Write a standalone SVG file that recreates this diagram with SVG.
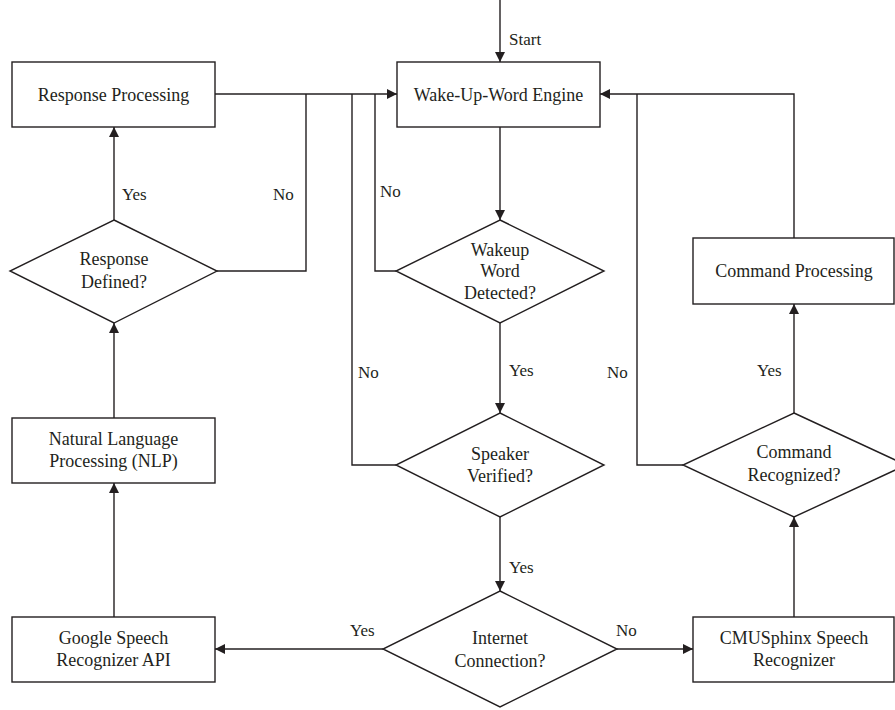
<svg xmlns="http://www.w3.org/2000/svg" width="895" height="710" viewBox="0 0 895 710">
<defs>
<style>
.box{fill:#fff;stroke:#231f20;stroke-width:1.4}
.ln{fill:none;stroke:#231f20;stroke-width:1.4}
.t{font-family:"Liberation Serif","Times New Roman",serif;font-size:18px;fill:#231f20;text-anchor:middle}
.lb{font-family:"Liberation Serif","Times New Roman",serif;font-size:17px;fill:#231f20}
</style>
<marker id="ah" viewBox="0 0 10 10" refX="10" refY="5" markerWidth="10" markerHeight="10" markerUnits="userSpaceOnUse" orient="auto">
<path d="M0,0 L10,5 L0,10 z" fill="#231f20"/>
</marker>
</defs>
<rect width="895" height="710" fill="#fff"/>
<g id="connectors">
<path class="ln" d="M500,0 V62" marker-end="url(#ah)"/>
<path class="ln" d="M215,94 H397" marker-end="url(#ah)"/>
<path class="ln" d="M217,271 H306 V94"/>
<path class="ln" d="M114,220 V127" marker-end="url(#ah)"/>
<path class="ln" d="M396,271 H375 V94"/>
<path class="ln" d="M396,465 H352 V94"/>
<path class="ln" d="M500,127 V220" marker-end="url(#ah)"/>
<path class="ln" d="M500,323 V413" marker-end="url(#ah)"/>
<path class="ln" d="M500,517 V591" marker-end="url(#ah)"/>
<path class="ln" d="M383,649 H215" marker-end="url(#ah)"/>
<path class="ln" d="M617,649 H693" marker-end="url(#ah)"/>
<path class="ln" d="M114,617 V483" marker-end="url(#ah)"/>
<path class="ln" d="M114,418 V323" marker-end="url(#ah)"/>
<path class="ln" d="M794,617 V517" marker-end="url(#ah)"/>
<path class="ln" d="M794,413 V304" marker-end="url(#ah)"/>
<path class="ln" d="M683,465 H637 V94"/>
<path class="ln" d="M794,238 V94 H600" marker-end="url(#ah)"/>
<text class="lb" x="509" y="45">Start</text>
<text class="lb" x="122" y="200">Yes</text>
<text class="lb" x="273" y="200">No</text>
<text class="lb" x="380" y="197">No</text>
<text class="lb" x="358" y="378">No</text>
<text class="lb" x="509" y="376">Yes</text>
<text class="lb" x="607" y="378">No</text>
<text class="lb" x="757" y="376">Yes</text>
<text class="lb" x="509" y="573">Yes</text>
<text class="lb" x="350" y="636">Yes</text>
<text class="lb" x="616" y="636">No</text>
</g>
<g id="response-processing">
<rect class="box" x="12" y="62" width="203" height="65"/>
<text class="t" x="113.5" y="101">Response Processing</text>
</g>
<g id="wake-up-word-engine">
<rect class="box" x="397" y="62" width="203" height="65"/>
<text class="t" x="498.5" y="101">Wake-Up-Word Engine</text>
</g>
<g id="response-defined">
<polygon class="box" points="114,220 217,271 114,323 10,271"/>
<text class="t" x="114" y="265">Response</text>
<text class="t" x="114" y="288">Defined?</text>
</g>
<g id="wakeup-word-detected">
<polygon class="box" points="500,220 604,271 500,323 396,271"/>
<text class="t" x="500" y="256">Wakeup</text>
<text class="t" x="500" y="277">Word</text>
<text class="t" x="500" y="299">Detected?</text>
</g>
<g id="command-processing">
<rect class="box" x="693" y="238" width="201" height="66"/>
<text class="t" x="794" y="277">Command Processing</text>
</g>
<g id="natural-language-processing">
<rect class="box" x="12" y="418" width="203" height="65"/>
<text class="t" x="113.5" y="445">Natural Language</text>
<text class="t" x="113.5" y="467">Processing (NLP)</text>
</g>
<g id="speaker-verified">
<polygon class="box" points="500,413 604,465 500,517 396,465"/>
<text class="t" x="500" y="460">Speaker</text>
<text class="t" x="500" y="482">Verified?</text>
</g>
<g id="command-recognized">
<polygon class="box" points="794,413 906,465 794,517 683,465"/>
<text class="t" x="794" y="458">Command</text>
<text class="t" x="794" y="481">Recognized?</text>
</g>
<g id="google-speech-recognizer-api">
<rect class="box" x="12" y="617" width="203" height="65"/>
<text class="t" x="113.5" y="644">Google Speech</text>
<text class="t" x="113.5" y="666">Recognizer API</text>
</g>
<g id="internet-connection">
<polygon class="box" points="500,591 617,649 500,707 383,649"/>
<text class="t" x="500" y="644">Internet</text>
<text class="t" x="500" y="667">Connection?</text>
</g>
<g id="cmusphinx-speech-recognizer">
<rect class="box" x="693" y="617" width="201" height="65"/>
<text class="t" x="794" y="644">CMUSphinx Speech</text>
<text class="t" x="794" y="666">Recognizer</text>
</g>
</svg>
